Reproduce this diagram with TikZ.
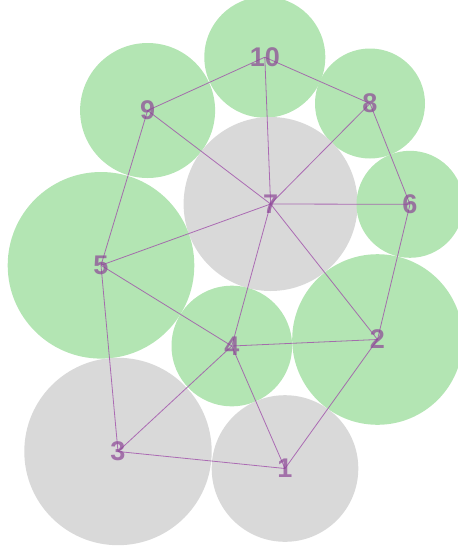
\documentclass[tikz,border=0pt]{standalone}
\usepackage{fontspec}
\setmainfont{Liberation Sans}
\definecolor{discgreen}{RGB}{179,229,179}
\definecolor{discgray}{RGB}{217,217,217}
\definecolor{linkpurple}{RGB}{160,80,170}
\definecolor{numpurple}{RGB}{140,70,150}
\tikzset{
  green disc/.style={fill=discgreen},
  gray disc/.style={fill=discgray},
  link/.style={linkpurple, line width=0.8pt, opacity=0.8},
  num/.style={text=numpurple, text opacity=0.7, inner sep=0pt,
    font=\fontsize{27}{27}\selectfont\bfseries}
}
\begin{document}
\begin{tikzpicture}[x=1pt, y=-1pt]
  \useasboundingbox (0,0) rectangle (458,550);
  \clip (0,0) rectangle (458,550);
  % centres
  \coordinate (c1) at (285,468.5);
  \coordinate (c2) at (377.5,339.5);
  \coordinate (c3) at (118,451.5);
  \coordinate (c4) at (231.8,346);
  \coordinate (c5) at (101,265.3);
  \coordinate (c6) at (410,204.3);
  \coordinate (c7) at (270.6,204);
  \coordinate (c8) at (370,103.5);
  \coordinate (c9) at (147.6,110.5);
  \coordinate (c10) at (264.8,57.2);
  % discs
  \fill [green disc] (c10) circle (60.5pt);
  \fill [green disc] (c9) circle (67.5pt);
  \fill [green disc] (c8) circle (55pt);
  \fill [gray disc] (c7) circle (87pt);
  \fill [green disc] (c6) circle (53.5pt);
  \fill [green disc] (c5) circle (93.3pt);
  \fill [green disc] (c2) circle (85.3pt);
  \fill [green disc] (c4) circle (60.3pt);
  \fill [gray disc] (c3) circle (93.7pt);
  \fill [gray disc] (c1) circle (73.3pt);
  % links
  \draw [link] (c10) -- (c9);
  \draw [link] (c10) -- (c8);
  \draw [link] (c10) -- (c7);
  \draw [link] (c9) -- (c7);
  \draw [link] (c9) -- (c5);
  \draw [link] (c8) -- (c7);
  \draw [link] (c8) -- (c6);
  \draw [link] (c7) -- (c6);
  \draw [link] (c7) -- (c5);
  \draw [link] (c7) -- (c4);
  \draw [link] (c7) -- (c2);
  \draw [link] (c6) -- (c2);
  \draw [link] (c5) -- (c4);
  \draw [link] (c5) -- (c3);
  \draw [link] (c4) -- (c2);
  \draw [link] (c4) -- (c3);
  \draw [link] (c4) -- (c1);
  \draw [link] (c3) -- (c1);
  \draw [link] (c2) -- (c1);
  % numbers
  \node [num] (n1) at (c1) {1};
  \node [num] (n2) at (c2) {2};
  \node [num] (n3) at (c3) {3};
  \node [num] (n4) at (c4) {4};
  \node [num] (n5) at (c5) {5};
  \node [num] (n6) at (c6) {6};
  \node [num] (n7) at (c7) {7};
  \node [num] (n8) at (c8) {8};
  \node [num] (n9) at (c9) {9};
  \node [num] (n10) at (c10) {10};
\end{tikzpicture}
\end{document}
